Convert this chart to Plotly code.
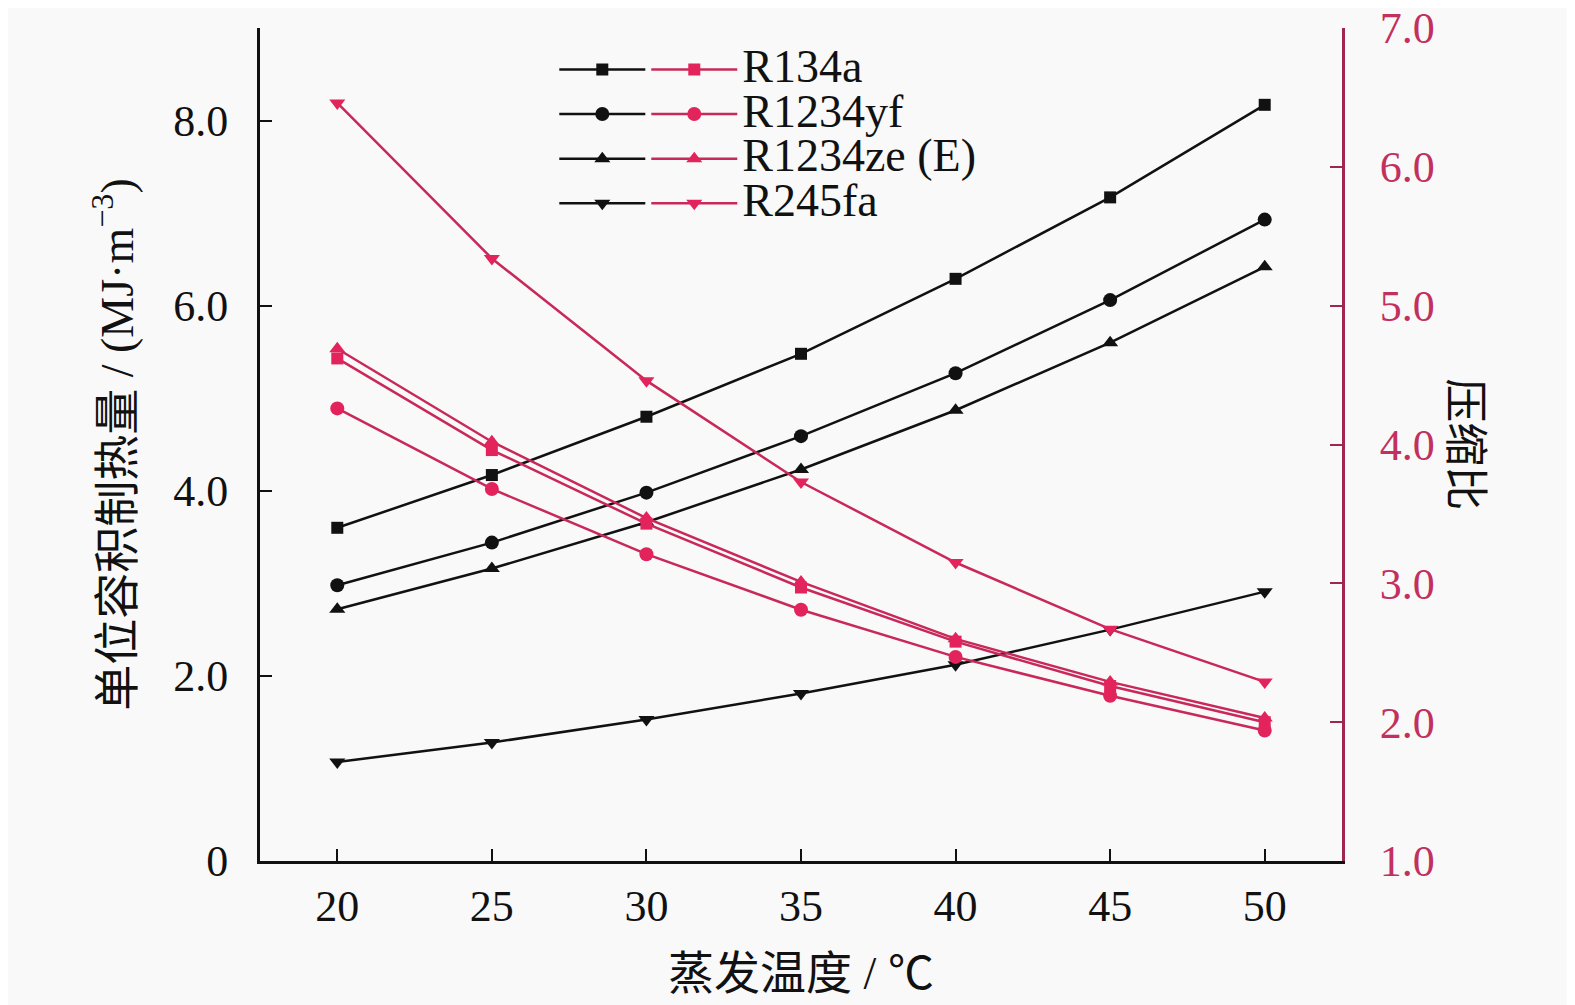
import plotly.graph_objects as go

# evaporation temperature (deg C)
temp = [20, 25, 30, 35, 40, 45, 50]

names = ['R134a', 'R1234yf', 'R1234ze (E)', 'R245fa']
symbols = ['square', 'circle', 'triangle-up', 'triangle-down']

# volumetric heating capacity, MJ/m3 (left axis)
heat_r134a = [3.60, 4.17, 4.80, 5.48, 6.29, 7.17, 8.17]
heat_r1234yf = [2.98, 3.44, 3.98, 4.59, 5.27, 6.06, 6.93]
heat_r1234ze = [2.72, 3.16, 3.66, 4.23, 4.87, 5.60, 6.42]
heat_r245fa = [1.07, 1.28, 1.53, 1.81, 2.12, 2.50, 2.91]

# compression ratio (right axis)
ratio_r134a = [4.62, 3.96, 3.43, 2.97, 2.58, 2.26, 2.00]
ratio_r1234yf = [4.26, 3.68, 3.21, 2.81, 2.47, 2.19, 1.94]
ratio_r1234ze = [4.69, 4.02, 3.47, 3.01, 2.60, 2.29, 2.03]
ratio_r245fa = [6.46, 5.34, 4.46, 3.73, 3.15, 2.67, 2.29]

left_ticks = [0, 2, 4, 6, 8]
left_labels = ['0', '2.0', '4.0', '6.0', '8.0']
right_ticks = [1, 2, 3, 4, 5, 6, 7]
right_labels = ['1.0', '2.0', '3.0', '4.0', '5.0', '6.0', '7.0']

heat = [heat_r134a, heat_r1234yf, heat_r1234ze, heat_r245fa]
ratio = [ratio_r134a, ratio_r1234yf, ratio_r1234ze, ratio_r245fa]

FONT = 'Liberation Serif, Times New Roman, Noto Sans CJK SC'
PINK = '#e3245c'
PINK_LINE = '#c8285a'
AXIS_RED = '#a02650'
sizes = [12, 14, 14, 14]

fig = go.Figure()

for i in range(4):
    fig.add_trace(go.Scatter(
        x=temp, y=heat[i], mode='lines+markers', name=' ',
        line=dict(color='#111111', width=2.5),
        marker=dict(symbol=symbols[i], size=sizes[i], color='#111111'),
        legend='legend'))

for i in range(4):
    fig.add_trace(go.Scatter(
        x=temp, y=ratio[i], mode='lines+markers',
        name='<span style="font-size:46px">' + names[i] + '</span>',
        line=dict(color=PINK_LINE, width=2.5),
        marker=dict(symbol=symbols[i], size=sizes[i], color=PINK),
        yaxis='y2', legend='legend2'))

fig.update_layout(
    width=1575, height=1005,
    margin=dict(l=252, r=241, t=20, b=152),
    paper_bgcolor='#f9f9f9',
    plot_bgcolor='#f9f9f9',
    font=dict(family=FONT, size=44, color='#111111'),
    showlegend=True,
    legend=dict(x=0.272, y=0.983, xanchor='left', yanchor='top',
                bgcolor='rgba(0,0,0,0)', itemwidth=86,
                font=dict(size=32), tracegroupgap=0),
    legend2=dict(x=0.357, y=0.983, xanchor='left', yanchor='top',
                 bgcolor='rgba(0,0,0,0)', itemwidth=86,
                 font=dict(size=32, color='#111111'), tracegroupgap=0),
    xaxis=dict(
        range=[17.5, 52.5], tickvals=temp, automargin=False,
        ticks='inside', ticklen=12, tickwidth=2, tickcolor='#111111',
        showline=True, linecolor='#111111', linewidth=3,
        showgrid=False, zeroline=False, ticklabelstandoff=4,
        tickfont=dict(size=44),
        title=dict(text='蒸发温度 / ℃', standoff=28,
                   font=dict(size=46))),
    yaxis=dict(
        range=[0, 9], tickvals=left_ticks, ticktext=left_labels,
        automargin=False,
        ticks='inside', ticklen=12, tickwidth=2, tickcolor='#111111',
        showline=True, linecolor='#111111', linewidth=3,
        showgrid=False, zeroline=False, ticklabelstandoff=20,
        tickfont=dict(size=44),
        title=dict(text='单位容积制热量 / (MJ·m<sup>−3</sup>)', standoff=26,
                   font=dict(size=46))),
    yaxis2=dict(
        range=[1, 7], tickvals=right_ticks, ticktext=right_labels,
        overlaying='y', side='right', ticklabeloverflow='allow',
        automargin=False,
        ticks='inside', ticklen=12, tickwidth=2, tickcolor=AXIS_RED,
        showline=True, linecolor=AXIS_RED, linewidth=3,
        showgrid=False, zeroline=False, ticklabelstandoff=26,
        tickfont=dict(color='#c2305e', size=44)),
)

fig.add_annotation(text='压缩比', textangle=90, showarrow=False,
                   xref='paper', yref='paper', x=1.113, y=0.5,
                   xanchor='center', yanchor='middle',
                   font=dict(size=44, color='#111111'))

fig.write_html('out.html')
